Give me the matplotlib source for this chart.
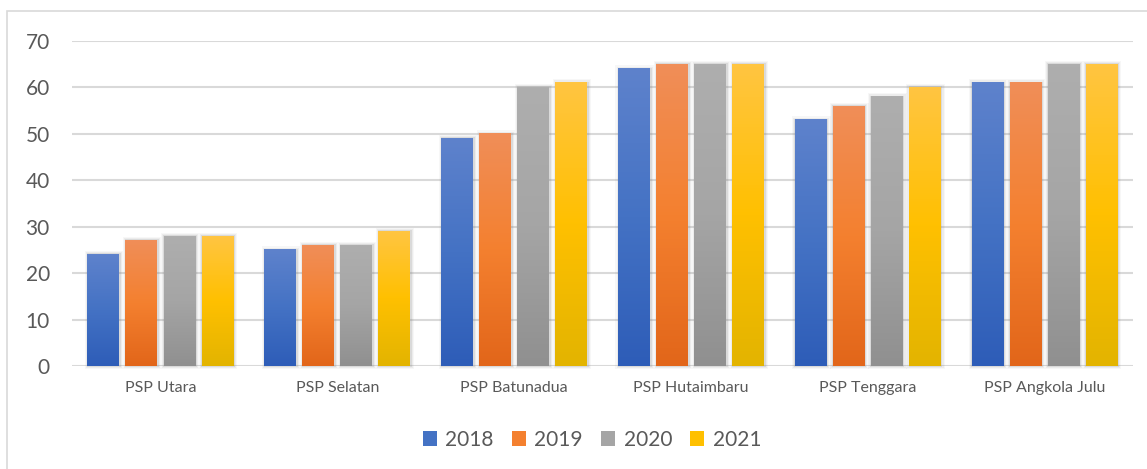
import numpy as np
import matplotlib.pyplot as plt
from matplotlib.colors import LinearSegmentedColormap
from matplotlib.patches import Rectangle, Patch

categories = ['PSP Utara', 'PSP Selatan', 'PSP Batunadua', 'PSP Hutaimbaru',
              'PSP Tenggara', 'PSP Angkola Julu']
years = ['2018', '2019', '2020', '2021']
v2018 = [24, 25, 49, 64, 53, 61]
v2019 = [27, 26, 50, 65, 56, 61]
v2020 = [28, 26, 60, 65, 58, 65]
v2021 = [28, 29, 61, 65, 60, 65]
series = [v2018, v2019, v2020, v2021]

# top, middle, bottom of each gradient
grads = [
    ('#5E82CC', '#4472C4', '#2E5DB8'),
    ('#F08E58', '#F4802F', '#E2661A'),
    ('#AEAEAE', '#A5A5A5', '#909090'),
    ('#FFC541', '#FFC000', '#E3B400'),
]
text_col = '#595959'
grid_col = '#D9D9D9'

plt.rcParams['font.family'] = ['Lato', 'DejaVu Sans']

fig = plt.figure(figsize=(11.47, 4.69), dpi=100)
fig.patches.append(Rectangle((7 / 1147, -0.01), 1.2, 1 - 11 / 469 + 0.01,
                             transform=fig.transFigure, fill=False,
                             edgecolor=grid_col, lw=1.2))
ax = fig.add_axes([72 / 1147, 103 / 469, 1061 / 1147, 325 / 469])

x = np.arange(len(categories))
width = 0.18
step = 0.215

for i, vals in enumerate(series):
    cmap = LinearSegmentedColormap.from_list('g%d' % i, list(grads[i]))
    grad = np.linspace(0, 1, 100).reshape(-1, 1)
    for xi, v in zip(x, vals):
        cx = xi + (i - 1.5) * step
        left = cx - width / 2
        # soft shadow
        for k, a in [(3, 0.06), (2, 0.09), (1, 0.16)]:
            ax.add_patch(Rectangle((left - 0.006 * k + 0.004, -0.25 * k),
                                   width + 0.012 * k, v + 0.5 * k,
                                   facecolor='#7F7F7F', alpha=a, lw=0,
                                   zorder=2, clip_on=False))
        ax.imshow(grad, cmap=cmap, aspect='auto',
                  extent=(left, left + width, 0, v), zorder=3)

ax.set_xlim(-0.5, len(categories) - 0.5)
ax.set_ylim(0, 70)
ax.set_yticks(range(0, 71, 10))
ax.set_xticks(x)
ax.set_xticklabels(categories, fontsize=11.5, color=text_col)
ax.tick_params(axis='y', length=0, pad=16, labelsize=15, labelcolor=text_col)
ax.tick_params(axis='x', length=0, pad=11)
ax.grid(axis='y', color=grid_col, lw=1.5, zorder=0)
ax.set_axisbelow(True)
for s in ax.spines.values():
    s.set_visible(False)

handles = [Patch(facecolor=g[1], edgecolor='none') for g in grads]
fig.legend(handles, years, loc='center', bbox_to_anchor=(0.516, 0.062),
           ncol=4, frameon=False, fontsize=15, handlelength=0.7,
           handleheight=0.7, handletextpad=0.4, columnspacing=0.85,
           labelcolor=text_col)

fig.savefig('out.png', dpi=100)
